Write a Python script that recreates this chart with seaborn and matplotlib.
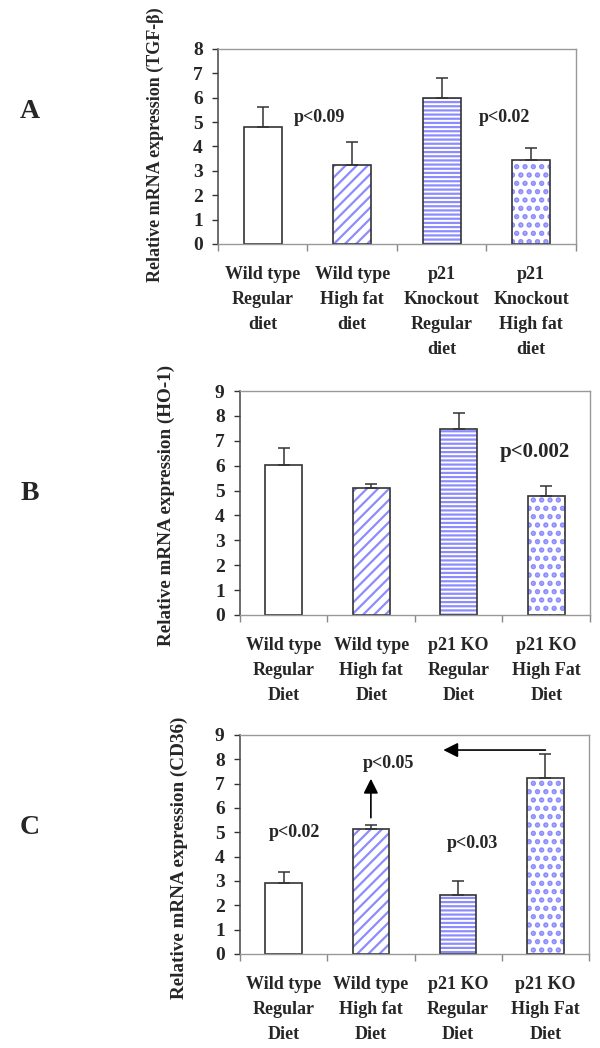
import numpy as np
import pandas as pd
import seaborn as sns
import matplotlib.pyplot as plt
import matplotlib.colors as mcolors

sns.set_style('white')
plt.rcParams['font.family'] = ['Liberation Serif', 'DejaVu Serif']
plt.rcParams['font.weight'] = 'bold'
plt.rcParams['hatch.linewidth'] = 1.6

labels_a = ['Wild type\nRegular\ndiet', 'Wild type\nHigh fat\ndiet',
            'p21\nKnockout\nRegular\ndiet', 'p21\nKnockout\nHigh fat\ndiet']
labels_bc = ['Wild type\nRegular\nDiet', 'Wild type\nHigh fat\nDiet',
             'p21 KO\nRegular\nDiet', 'p21 KO\nHigh Fat\nDiet']

tgf_mean = [4.8, 3.22, 6.0, 3.43]
tgf_err = [0.82, 0.97, 0.8, 0.5]
ho1_mean = [6.02, 5.12, 7.48, 4.77]
ho1_err = [0.68, 0.16, 0.62, 0.4]
cd36_mean = [2.93, 5.14, 2.44, 7.23]
cd36_err = [0.45, 0.16, 0.56, 1.0]

hatches = ['', '///', '----', '..']
hatch_lw = [1.6, 1.6, 1.6, 2.6]
hatch_col = '#8c8cff'
edge_col = '#333333'


def panel(rect, cats, means, errs, ymax, ylabel, label_x, label_y, lab_fs):
    ax = fig.add_axes(rect)
    df = pd.DataFrame({'group': cats, 'value': means})
    sns.barplot(data=df, x='group', y='value', ax=ax, color='white',
                width=0.42, edgecolor=edge_col, linewidth=1.2)
    for p, h, lw in zip(ax.patches, hatches, hatch_lw):
        p.set_hatch(h)
        p.set_facecolor('white')
        p._hatch_color = mcolors.to_rgba(hatch_col)
        if hasattr(p, 'set_hatch_linewidth'):
            p.set_hatch_linewidth(lw)
        elif hasattr(p, '_hatch_linewidth'):
            p._hatch_linewidth = lw
    x = np.arange(len(cats))
    ax.errorbar(x, means, yerr=[np.zeros(len(errs)), errs], fmt='none',
                ecolor=edge_col, elinewidth=1.1, capsize=4.5, capthick=1.1,
                zorder=1)
    ax.set_ylim(0, ymax)
    ax.set_xlim(-0.5, len(cats) - 0.5)
    ax.set_yticks(range(ymax + 1))
    ax.set_xlabel('')
    ax.set_ylabel(ylabel, fontsize=lab_fs, fontweight='bold')
    ax.yaxis.set_label_coords(label_x, label_y)
    ax.tick_params(axis='y', labelsize=14, length=4, width=1, direction='out',
                   left=True, pad=7, color=edge_col)
    ax.set_xticks(x)
    ax.set_xticklabels(cats, fontsize=13, linespacing=1.6)
    ax.tick_params(axis='x', length=0, pad=16)
    ax.set_xticks(np.arange(-0.5, len(cats)), minor=True)
    ax.tick_params(axis='x', which='minor', length=5, width=1,
                   direction='out', bottom=True, color='#888888')
    for s in ['top', 'right', 'bottom']:
        ax.spines[s].set_color('#999999')
        ax.spines[s].set_linewidth(1)
    ax.spines['left'].set_color('#444444')
    ax.spines['left'].set_linewidth(1.1)
    return ax


fig = plt.figure(figsize=(6, 10.48), dpi=100)

ax_a = panel([0.3633, 0.7672, 0.5967, 0.1861], labels_a, tgf_mean, tgf_err,
             8, 'Relative mRNA expression (TGF-β)', -0.151, 0.51, 13)
ax_a.text(0.63, 5.2, 'p<0.09', fontsize=13, ha='center', va='center')
ax_a.text(2.7, 5.2, 'p<0.02', fontsize=13, ha='center', va='center')

ax_b = panel([0.4, 0.4132, 0.5833, 0.2137], labels_bc, ho1_mean, ho1_err,
             9, 'Relative mRNA expression (HO-1)', -0.186, 0.49, 13.8)
ax_b.text(2.87, 6.56, 'p<0.002', fontsize=15, ha='center', va='center')

ax_c = panel([0.4, 0.0897, 0.5817, 0.209], labels_bc, cd36_mean, cd36_err,
             9, 'Relative mRNA expression (CD36)', -0.149, 0.44, 13.8)
ax_c.text(1.2, 7.81, 'p<0.05', fontsize=13, ha='center', va='center')
ax_c.text(0.12, 4.99, 'p<0.02', fontsize=13, ha='center', va='center')
ax_c.text(2.16, 4.56, 'p<0.03', fontsize=13, ha='center', va='center')
ax_c.annotate('', xy=(1.0, 7.2), xytext=(1.0, 5.6),
              arrowprops=dict(arrowstyle='-|>', color='black', lw=1.2,
                              mutation_scale=22, shrinkA=0, shrinkB=0))
ax_c.annotate('', xy=(1.83, 8.38), xytext=(3.0, 8.38),
              arrowprops=dict(arrowstyle='-|>', color='black', lw=1.2,
                              mutation_scale=22, shrinkA=0, shrinkB=0))

for letter, ypos in [('A', 112), ('B', 494), ('C', 827)]:
    fig.text(30 / 600, 1 - ypos / 1048, letter, fontsize=20,
             fontweight='bold', ha='center', va='center')

fig.savefig('out.png', dpi=100)
